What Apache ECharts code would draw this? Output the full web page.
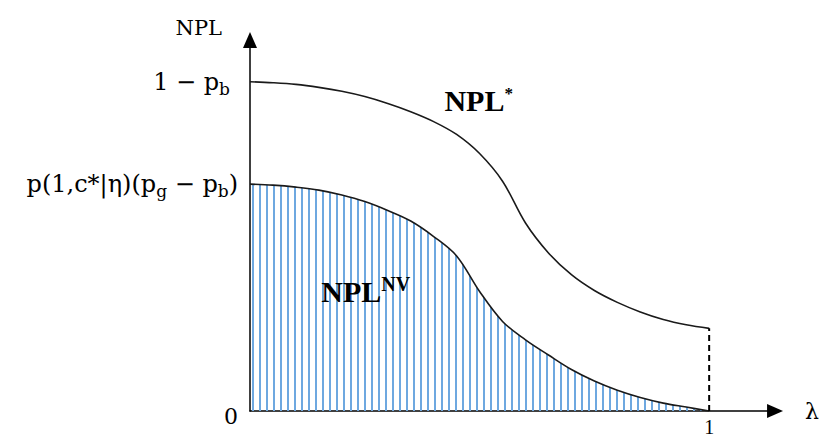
<!DOCTYPE html>
<html>
<head>
<meta charset="utf-8">
<script src="https://cdn.jsdelivr.net/npm/echarts@6/dist/echarts.min.js"></script>
<style>html,body{margin:0;padding:0;background:#fff;}#c{width:822px;height:437px;}</style>
</head>
<body>
<div id="c"></div>
<script>
// λ positions and curve values
const lambdaValues = [0, 0.05, 0.1, 0.15, 0.2, 0.25, 0.3, 0.35, 0.4, 0.45, 0.5, 0.55, 0.6, 0.65, 0.7, 0.75, 0.8, 0.85, 0.9, 0.95, 1.0];
const nplStar      = [1.000, 0.997, 0.992, 0.983, 0.971, 0.955, 0.934, 0.909, 0.879, 0.840, 0.782, 0.698, 0.571, 0.480, 0.414, 0.366, 0.330, 0.301, 0.278, 0.262, 0.251];
const nplNV        = [0.689, 0.686, 0.680, 0.671, 0.656, 0.636, 0.609, 0.577, 0.530, 0.471, 0.363, 0.272, 0.216, 0.170, 0.126, 0.091, 0.063, 0.041, 0.024, 0.012, 0.000];
// tick values / labels
const yTickValues = [0, 0.689, 1];
const yTickLabels = ['{big|0}', 'p(1,c*|η)(p{sub|g} − p{sub|b})', '1 − p{sub|b}{pad|}'];
const xTickValues = [1];
const xTickLabels = ['1'];
const axisNames = { x: 'λ', y: 'NPL' };
const curveNames = { upper: 'NPL{sup|*}', lower: 'NPL{sup|NV}' };

const upperData = lambdaValues.map((x, i) => [x, nplStar[i]]);
const lowerData = lambdaValues.map((x, i) => [x, nplNV[i]]);
const dashData = [[1, 0], [1, nplStar[nplStar.length - 1]]];

// hatch pattern
const pc = document.createElement('canvas');
pc.width = 7; pc.height = 8;
const pctx = pc.getContext('2d');
pctx.fillStyle = '#6ea8e0';
pctx.fillRect(0, 0, 2, 8);

const serif = '"DejaVu Serif", "Liberation Serif", serif';
const bserif = '"Liberation Serif", "DejaVu Serif", serif';
const chart = echarts.init(document.getElementById('c'), null, { renderer: 'svg' });
chart.setOption({
  animation: false,
  backgroundColor: '#fff',
  grid: { left: 250, right: 46, top: 40, bottom: 24 },
  xAxis: {
    type: 'value', min: 0, max: 1.1435,
    splitLine: { show: false },
    axisTick: { show: false },
    axisLine: { lineStyle: { color: '#000', width: 1.5 }, symbol: ['none', 'triangle'], symbolSize: [14, 16] },
    axisLabel: {
      customValues: xTickValues, margin: 6,
      formatter: v => xTickLabels[xTickValues.indexOf(v)],
      fontFamily: bserif, fontSize: 20, color: '#000'
    },
    name: axisNames.x, nameLocation: 'end', nameGap: 30,
    nameTextStyle: { fontFamily: serif, fontSize: 22, color: '#000', verticalAlign: 'middle' }
  },
  yAxis: {
    type: 'value', min: 0, max: 1.1269,
    splitLine: { show: false },
    axisTick: { show: false },
    axisLine: { lineStyle: { color: '#000', width: 1.5 }, symbol: ['none', 'triangle'], symbolSize: [14, 16] },
    axisLabel: {
      customValues: yTickValues, margin: 12,
      formatter: v => yTickLabels[yTickValues.indexOf(v)],
      fontFamily: serif, fontSize: 24, color: '#000',
      rich: {
        sub: { fontFamily: serif, fontSize: 17, color: '#000', padding: [14, 0, 0, 0] },
        big: { fontFamily: serif, fontSize: 22, color: '#000', padding: [10, 0, 0, 0] },
        pad: { width: 8 }
      }
    },
    name: axisNames.y, nameLocation: 'end', nameGap: 2,
    nameTextStyle: { fontFamily: serif, fontSize: 21, color: '#000', align: 'right', padding: [0, 28, 0, 0] }
  },
  series: [
    {
      name: 'NPL*', type: 'line', data: upperData, smooth: 0.35,
      showSymbol: false, symbol: 'none',
      lineStyle: { color: '#1a1a1a', width: 1.6 },
      markPoint: {
        symbol: 'circle', symbolSize: 0,
        data: [{ coord: [0.498, 0.943] }],
        label: {
          show: true, position: 'inside', formatter: curveNames.upper,
          fontFamily: bserif, fontWeight: 'bold', fontSize: 30, color: '#000',
          rich: { sup: { fontFamily: bserif, fontWeight: 'bold', fontSize: 17, color: '#000', padding: [0, 0, 14, 0] } }
        }
      }
    },
    {
      name: 'NPLNV', type: 'line', data: lowerData, smooth: 0.35,
      showSymbol: false, symbol: 'none',
      lineStyle: { color: '#1a1a1a', width: 1.6 },
      areaStyle: { color: { image: pc, repeat: 'repeat' }, opacity: 1 },
      markPoint: {
        symbol: 'circle', symbolSize: 0,
        data: [{ coord: [0.252, 0.363] }],
        label: {
          show: true, position: 'inside', formatter: curveNames.lower,
          fontFamily: bserif, fontWeight: 'bold', fontSize: 30, color: '#000',
          rich: { sup: { fontFamily: bserif, fontWeight: 'bold', fontSize: 20, color: '#000', padding: [0, 0, 14, 0] } }
        }
      }
    },
    {
      name: 'dash', type: 'line', data: dashData, showSymbol: false, symbol: 'none',
      lineStyle: { color: '#000', width: 2, type: [6, 4] }
    }
  ]
});
</script>
</body>
</html>
